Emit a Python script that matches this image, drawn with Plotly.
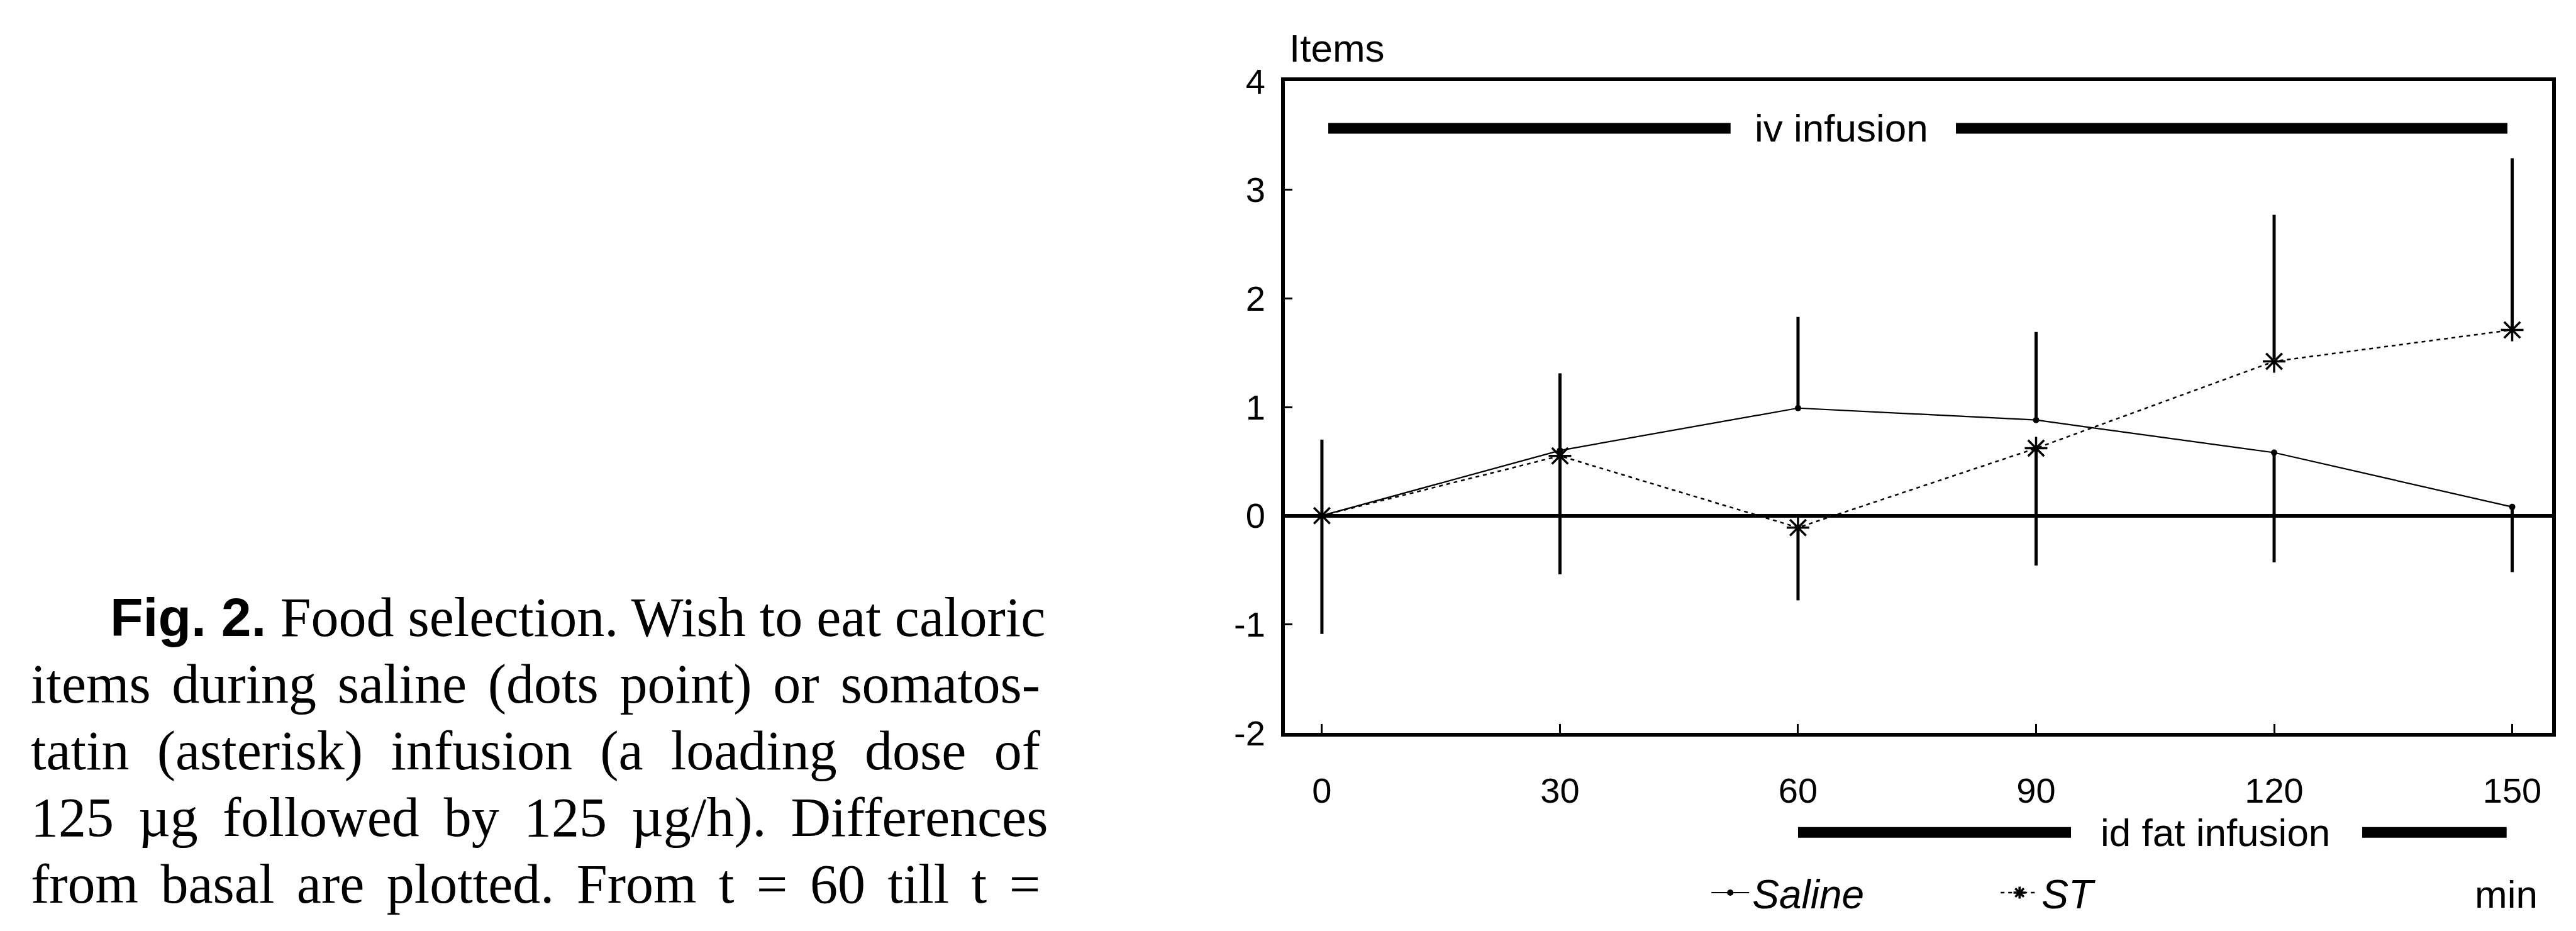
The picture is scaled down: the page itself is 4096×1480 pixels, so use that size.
import plotly.graph_objects as go

# ---------------- data ----------------
time_min = [0, 30, 60, 90, 120, 150]
saline = [0.00, 0.60, 0.99, 0.88, 0.58, 0.08]
st = [0.00, 0.55, -0.11, 0.62, 1.42, 1.71]
saline_err_up = [0.70, 0.71, 0.84, 0.81, 0.00, 0.00]
saline_err_down = [0.00, 0.00, 0.00, 0.00, 1.01, 0.60]
st_err_up = [0.00, 0.00, 0.00, 0.00, 1.35, 1.58]
st_err_down = [1.09, 1.09, 0.67, 1.08, 0.00, 0.00]

x_ticks = [0, 30, 60, 90, 120, 150]
x_tick_labels = ["0", "30", "60", "90", "120", "150"]
y_ticks = [-2, -1, 0, 1, 2, 3, 4]
y_tick_labels = ["-2", "-1", "0", "1", "2", "3", "4"]

iv_bar_left = [0.8, 51.5]
iv_bar_right = [79.9, 149.4]
iv_level = 3.566
id_bar_left = [60.0, 94.4]
id_bar_right = [131.1, 149.3]

caption_bold = "Fig. 2."
caption_lines = [
    "Food selection. Wish to eat caloric",
    "items during saline (dots point) or somatos-",
    "tatin (asterisk) infusion (a loading dose of",
    "125 \u00b5g followed by 125 \u00b5g/h). Differences",
    "from basal are plotted. From t = 60 till t =",
]

# ---------------- geometry ----------------
S = 0.935
W_OUT, H_OUT = 4096, 1480
L = 2185 * S
R = 4340 * S
T = 138 * S
B = 1270 * S


def paper_x(ref_px):
    return (ref_px * S - L) / (R - L)


def paper_y(ref_px):
    return (B - ref_px * S) / (B - T)


SANS = "Liberation Sans, Arial, sans-serif"
SERIF = "Liberation Serif, Times New Roman, serif"

# approximate Times / Helvetica-Bold advance widths (per 1000 em) for justification
TIMES_W = {' ': 250, '(': 333, ')': 333, '-': 333, '.': 250, '/': 278, '=': 564,
           '\u00b5': 500, 'D': 722, 'F': 556, 'W': 944,
           'a': 444, 'b': 500, 'c': 444, 'd': 500, 'e': 444, 'f': 333, 'g': 500,
           'h': 500, 'i': 278, 'k': 500, 'l': 278, 'm': 778, 'n': 500, 'o': 500,
           'p': 500, 'r': 333, 's': 389, 't': 278, 'u': 500, 'v': 500, 'w': 722,
           'y': 500, 'z': 444}
HELVB_W = {'F': 611, 'i': 278, 'g': 611, '.': 278, ' ': 278, '2': 556}


def text_width(s, table, size):
    return sum(table.get(c, 500) for c in s) * size / 1000.0


CAP_SIZE = 88
BOLD_SIZE = 86

fig = go.Figure()

fig.add_trace(go.Scatter(
    x=time_min, y=saline, name="Saline", mode="lines+markers",
    line=dict(color="black", width=2.2),
    marker=dict(symbol="circle", size=10, color="black"),
    error_y=dict(type="data", symmetric=False, array=saline_err_up,
                 arrayminus=saline_err_down, width=0, thickness=5, color="black"),
))
fig.add_trace(go.Scatter(
    x=time_min, y=st, name="ST", mode="lines+markers",
    line=dict(color="black", width=2.5, dash="6px,6px"),
    marker=dict(symbol="asterisk-open", size=30, color="black",
                line=dict(color="black", width=3.5)),
    error_y=dict(type="data", symmetric=False, array=st_err_up,
                 arrayminus=st_err_down, width=0, thickness=5, color="black"),
))

shapes = []
for seg in (iv_bar_left, iv_bar_right):
    shapes.append(dict(type="line", xref="x", yref="y", x0=seg[0], x1=seg[1],
                       y0=iv_level, y1=iv_level, line=dict(color="black", width=17)))
for seg in (id_bar_left, id_bar_right):
    shapes.append(dict(type="line", xref="x", yref="paper", x0=seg[0], x1=seg[1],
                       y0=paper_y(1443), y1=paper_y(1443), line=dict(color="black", width=17)))

annotations = [
    dict(text="Items", xref="paper", yref="paper", x=paper_x(2190), y=paper_y(81),
         xanchor="left", yanchor="middle", showarrow=False,
         font=dict(family=SANS, size=62, color="black")),
    dict(text="iv infusion", xref="x", yref="y", x=65.5, y=iv_level,
         xanchor="center", yanchor="middle", showarrow=False,
         font=dict(family=SANS, size=62, color="black")),
    dict(text="id fat infusion", xref="x", yref="paper", x=112.6, y=paper_y(1443),
         xanchor="center", yanchor="middle", showarrow=False,
         font=dict(family=SANS, size=62, color="black")),
    dict(text="min", xref="paper", yref="paper", x=paper_x(4318), y=paper_y(1550),
         xanchor="right", yanchor="middle", showarrow=False,
         font=dict(family=SANS, size=62, color="black")),
]

baselines_ref = [1099, 1215, 1331, 1447, 1563]
starts_ref = [185, 50, 50, 50, 50]
right_ref = 1767
for i, (line, base, x0) in enumerate(zip(caption_lines, baselines_ref, starts_ref)):
    target = (right_ref - x0) * S
    natural = text_width(line, TIMES_W, CAP_SIZE)
    n_spaces = line.count(" ")
    if i == 0:
        natural += text_width(caption_bold + " ", HELVB_W, BOLD_SIZE)
        n_spaces += 2
    extra = max(0.0, (target - natural) / max(n_spaces, 1))
    body = line
    if i == 0:
        body = ("<span style='font-family:Liberation Sans, Arial;font-weight:bold;"
                "font-size:%dpx'>%s</span> %s" % (BOLD_SIZE, caption_bold, line))
    text = "<span style='word-spacing:%.1fpx'>%s</span>" % (extra, body)
    annotations.append(dict(
        text=text, xref="paper", yref="paper", x=paper_x(x0), y=paper_y(base - 30),
        xanchor="left", yanchor="middle", showarrow=False,
        font=dict(family=SERIF, size=CAP_SIZE, color="black")))

fig.update_layout(
    width=W_OUT, height=H_OUT,
    margin=dict(l=L, r=W_OUT - R, t=T, b=H_OUT - B, pad=0),
    paper_bgcolor="white", plot_bgcolor="white",
    showlegend=True,
    legend=dict(orientation="h", x=paper_x(2905), xanchor="left",
                y=paper_y(1548), yanchor="middle",
                font=dict(family=SANS, size=64, color="black", style="italic"),
                entrywidth=385, entrywidthmode="pixels",
                bgcolor="rgba(0,0,0,0)", itemwidth=60),
    shapes=shapes,
    annotations=annotations,
    xaxis=dict(range=[-4.67, 155.03], tickvals=x_ticks, ticktext=x_tick_labels,
               showgrid=False, zeroline=False, showline=True, linecolor="black",
               linewidth=6, mirror=True, ticks="inside", ticklen=14, tickwidth=3,
               tickcolor="black", ticklabelstandoff=38,
               tickfont=dict(family=SANS, size=56, color="black")),
    yaxis=dict(range=[-2, 4], tickvals=y_ticks, ticktext=y_tick_labels,
               showgrid=False, zeroline=True, zerolinecolor="black", zerolinewidth=6,
               showline=True, linecolor="black", linewidth=6, mirror=True,
               ticks="inside", ticklen=12, tickwidth=3, tickcolor="black",
               ticklabelstandoff=14,
               tickfont=dict(family=SANS, size=56, color="black")),
)

fig.write_html("out.html")
